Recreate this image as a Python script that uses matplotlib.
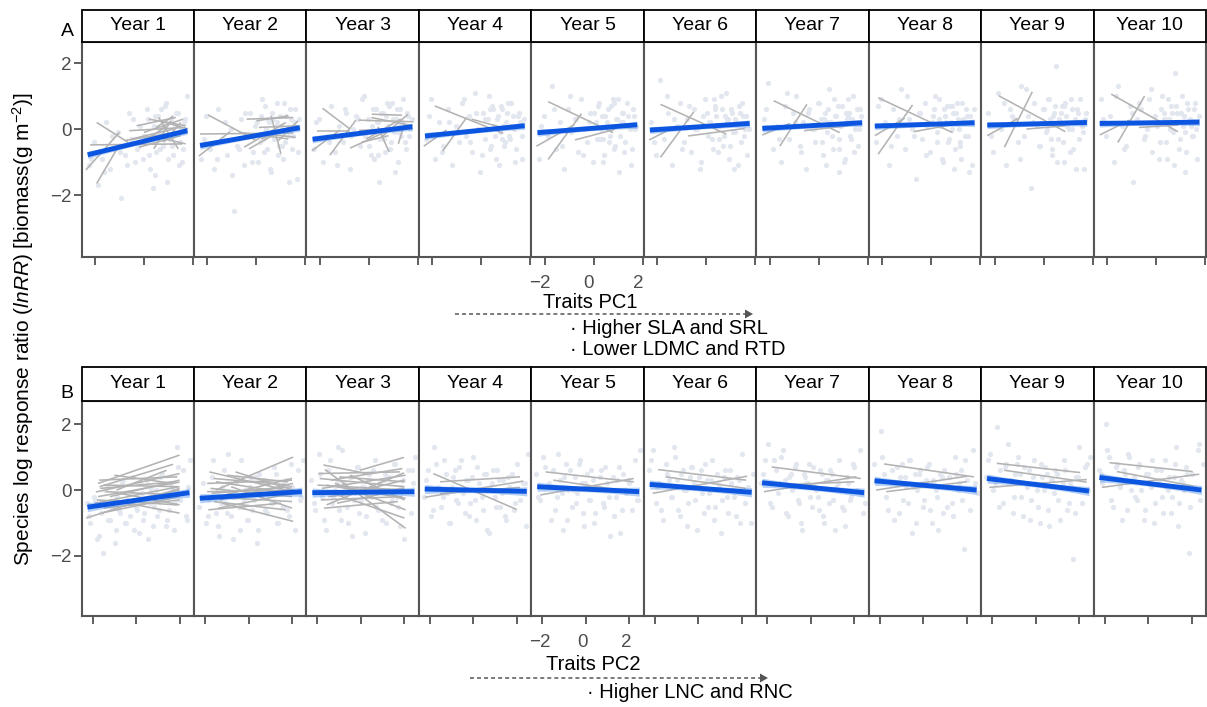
import numpy as np
import matplotlib
matplotlib.use("Agg")
import matplotlib.pyplot as plt
from matplotlib.patches import Rectangle, Polygon
from matplotlib.lines import Line2D
import matplotlib.transforms as mtransforms

plt.rcParams['font.family'] = ['Liberation Sans', 'DejaVu Sans']
plt.rcParams['mathtext.fontset'] = 'custom'
plt.rcParams['mathtext.rm'] = 'Liberation Sans'
plt.rcParams['mathtext.it'] = 'Liberation Sans:italic'
plt.rcParams['mathtext.bf'] = 'Liberation Sans:bold'

# ---------------- data ----------------
years = ["Year %d" % i for i in range(1, 11)]
yticks = [-2, 0, 2]
xticks = [-2, 0, 2]
xtick_labels = ["\u22122", "0", "2"]

# Trait PC1 (panel A) scores of observations
xA = [-2.25, -2.05, -1.88, -1.72, -1.55, -1.38, -1.21, -1.05, -0.92, -0.78, -0.63, -0.51,
      -0.38, -0.27, -0.15, -0.04, 0.08, 0.17, 0.26, 0.34, 0.43, 0.51, 0.60, 0.68,
      0.77, 0.85, 0.93, 1.02, 1.10, 1.19, 1.28, 1.37, 1.46, 1.55, 1.64, 1.74,
      -2.15, -1.62, -1.30, -0.98, -0.71, -0.45, -0.20, 0.02, 0.13, 0.22, 0.31, 0.39,
      0.47, 0.56, 0.64, 0.72, 0.81, 0.89, 0.97, 1.06, 1.14, 1.23, 1.32, 1.41,
      1.50, 1.59, 1.68, 0.36, 0.84, 1.18]
yA = [
    [-1.1, -0.4, -1.7, -0.9, 0.2, -1.2, -0.6, -0.1, -2.1, -0.8, 0.5, -0.3, -1.0, -0.6, 0.1, -0.9, -0.4, 0.3,
     -1.2, -0.2, 0.4, -0.7, -0.1, 0.6, -0.5, 0.2, -1.6, -0.3, 0.3, -0.8, 0.1, 0.5, -0.4, -1.0, 0.2, 1.0,
     -0.9, -1.3, -0.2, -0.7, -1.1, 0.3, -0.5, -0.2, 0.6, -0.8, -0.4, 0.1, -1.4, 0.4, -0.6, 0.0, -0.3, 0.8,
     -0.9, 0.2, -0.5, -0.1, 0.5, -1.1, 0.0, -0.6, 0.3, -1.8, 0.7, -0.2],
    [-0.9, 0.4, -0.6, -1.2, 0.6, -0.3, -0.8, 0.0, -2.5, -0.5, 0.3, -1.1, -0.2, 0.5, -0.7, 0.1, -1.0, 0.4,
     -0.3, 0.7, -0.6, 0.2, -1.3, 0.3, -0.1, 0.8, -0.5, 0.1, -0.9, 0.4, -0.2, 0.6, -0.6, 0.2, -1.5, 0.3,
     -0.3, -0.9, 0.2, -1.4, -0.6, 0.5, -1.0, 0.2, -0.4, 0.9, -0.7, 0.0, 0.3, -1.2, 0.5, -0.3, 0.1, -0.8,
     0.4, -0.5, 0.8, 0.0, -1.6, 0.3, -0.2, 0.6, -0.7, -0.1, 0.2, -0.4],
    [-0.6, 0.3, -1.0, -0.2, 0.7, -0.7, 0.1, -0.4, 0.5, -1.2, 0.0, 0.4, -0.5, 0.9, -0.2, 0.3, -0.8, 0.6,
     -0.1, 0.2, -1.6, 0.5, -0.3, 0.4, 0.1, -0.6, 0.8, -0.1, 0.3, -1.0, 0.6, 0.2, -0.4, 0.5, -0.2, 0.3,
     0.2, -0.4, -1.1, 0.6, -0.2, 0.3, 1.0, -0.5, 0.1, -0.9, 0.6, 0.2, -0.3, 0.5, -0.7, 0.8, 0.0, -0.4,
     0.3, -1.3, 0.6, 0.1, -0.2, 0.9, -0.6, 0.4, 0.0, -0.8, 0.7, -0.1],
    [-0.3, 0.9, -0.9, 0.2, -0.5, 0.6, -1.1, 0.1, -0.4, 0.8, -0.2, 0.4, -0.7, 1.1, 0.0, -1.3, 0.5, -0.3,
     0.3, -0.6, 0.7, 0.1, -0.9, 0.4, -0.1, 0.6, -0.5, 0.2, 0.8, -0.3, 0.4, -1.0, 0.1, 0.5, -0.2, 0.3,
     0.4, -0.7, 0.2, -0.1, 0.9, -0.4, 0.5, -0.8, 0.3, 0.0, 1.0, -0.5, 0.6, -0.2, 0.3, -1.1, 0.7, 0.1,
     -0.4, 0.5, -0.2, 0.8, 0.0, -0.6, 0.4, 0.2, -0.9, 0.6, -0.3, 0.1],
    [-0.9, 0.4, -0.2, 1.3, -0.6, 0.2, -1.2, 0.6, -0.1, 0.3, -0.7, 0.9, 0.0, -0.4, 0.5, -1.0, 0.2, 0.7,
     -0.3, 0.4, -0.8, 0.1, 0.6, -0.2, 0.9, -0.5, 0.3, -1.3, 0.2, 0.5, -0.4, 0.8, 0.0, -0.6, 0.4, 0.1,
     0.1, 0.6, -0.5, 1.0, 0.3, -0.8, 0.2, 0.5, -0.3, 0.8, 0.0, -1.0, 0.4, 0.2, -0.4, 0.7, -0.6, 0.3,
     0.9, -0.2, 0.5, -0.7, 0.1, 0.4, -1.1, 0.6, 0.0, -0.3, 0.8, 0.2],
    [0.2, -0.8, 1.5, -0.3, 0.5, -1.1, 0.1, 0.8, -0.4, 0.3, -0.7, 0.6, 0.0, -1.2, 0.4, 0.9, -0.2, 0.2,
     -0.6, 0.7, 0.1, -0.3, 1.0, -0.5, 0.4, 0.2, -0.9, 0.6, -0.1, 0.3, -1.1, 0.5, 0.8, -0.2, 0.4, 0.0,
     -0.4, 1.0, 0.3, -0.6, 0.7, 0.0, -1.0, 0.5, 0.2, -0.3, 0.9, 0.4, -0.7, 0.1, 0.6, -0.2, 1.1, 0.3,
     -0.5, 0.5, -1.2, 0.2, 0.7, -0.4, 0.4, 0.0, -0.8, 0.6, 0.3, -0.1],
    [0.3, 1.4, -0.6, 0.1, -1.0, 0.7, -0.3, 0.5, 1.0, -0.5, 0.2, -1.2, 0.6, 0.0, -0.4, 0.8, 0.3, -0.8,
     0.5, -0.1, 1.2, 0.2, -0.6, 0.4, 0.7, -0.3, 0.1, -1.0, 0.5, 0.9, -0.2, 0.3, -0.7, 0.6, 0.0, 0.4,
     0.6, -0.3, 1.1, 0.2, -0.7, 0.5, 0.0, 0.8, -0.4, 0.3, -1.1, 0.6, 0.2, -0.2, 0.9, 0.4, -0.6, 0.1,
     0.7, -0.9, 0.3, 0.5, -0.3, 1.0, 0.0, -0.5, 0.6, 0.2, -1.3, 0.4],
    [-0.4, 0.9, 0.2, -1.1, 0.6, -0.2, 1.2, -0.6, 0.3, 0.0, -1.5, 0.5, -0.3, 0.8, 0.1, -0.7, 0.4, 1.0,
     -0.1, 0.3, -0.9, 0.6, 0.2, -0.4, 0.7, 0.0, -1.2, 0.5, 0.3, -0.5, 0.8, -0.2, 0.4, -1.3, 0.2, 0.6,
     0.7, -0.5, 0.3, 1.0, -0.2, 0.5, -0.8, 0.2, 0.6, -0.4, 0.9, 0.1, -1.0, 0.4, 0.7, -0.3, 0.2, 0.5,
     -0.6, 0.8, 0.0, -0.9, 0.3, 0.6, -0.2, 0.4, -1.1, 0.1, 0.7, -0.4],
    [0.5, -0.7, 1.1, 0.0, -1.1, 0.6, 0.3, -0.4, 1.3, -0.2, 0.4, -1.8, 0.8, 0.1, -0.5, 0.6, -0.1, 0.9,
     0.3, -0.8, 0.5, 1.9, -0.3, 0.2, 0.7, -1.0, 0.4, 0.0, 0.9, -0.6, 0.3, 0.6, -0.3, 0.1, -1.2, 0.5,
     -0.2, 0.8, 0.4, -0.9, 1.2, 0.2, -0.5, 0.6, 0.0, 0.9, -0.3, 0.4, 0.7, -1.0, 0.3, 0.5, -0.4, 0.8,
     0.1, -0.7, 0.6, 0.2, -1.2, 0.5, 0.9, -0.1, 0.3, -0.6, 0.7, 0.0],
    [0.9, -0.2, 0.4, -1.0, 1.3, 0.1, -0.5, 0.7, -1.6, 0.3, 0.6, -0.3, 0.0, 0.9, -0.7, 0.4, 0.2, -0.4,
     1.0, 0.5, -0.9, 0.3, 0.7, -0.1, 1.7, 0.2, -0.6, 0.5, 0.1, -1.3, 0.8, 0.3, -0.2, 0.6, 0.0, 0.4,
     0.3, 1.0, -0.6, 0.5, 0.8, -0.2, 1.2, 0.1, -0.9, 0.6, 0.3, -0.4, 0.9, 0.0, 0.5, -1.1, 0.7, 0.2,
     -0.3, 1.0, 0.4, -0.7, 0.6, 0.1, -0.2, 0.8, -0.9, 0.3, 0.5, -0.1],
]

# Trait PC2 (panel B) scores of observations
xB = [-2.28, -2.10, -1.95, -1.80, -1.62, -1.50, -1.35, -1.20, -1.06, -0.93, -0.80, -0.66,
      -0.52, -0.40, -0.27, -0.14, -0.02, 0.12, 0.25, 0.38, 0.50, 0.63, 0.77, 0.90,
      1.04, 1.17, 1.30, 1.44, 1.58, 1.72, 1.86, 2.00, 2.14, 2.28, 2.40, 2.50,
      -2.18, -1.88, -1.70, -1.42, -1.28, -1.12, -0.99, -0.86, -0.72, -0.59, -0.46, -0.33,
      -0.20, -0.08, 0.05, 0.18, 0.31, 0.44, 0.57, 0.70, 0.84, 0.97, 1.10, 1.24,
      1.37, 1.51, 1.65, 1.79, 1.93, 2.35]
yB = [
    [-0.4, -1.0, -0.2, -1.5, -0.7, -1.9, 0.1, -0.9, -0.4, -1.2, -0.6, 0.2, -1.0, -0.3, -0.8, 0.4, -0.5, -1.3,
     -0.1, -0.7, 0.3, -0.4, -1.1, 0.0, -0.6, 0.5, -0.2, -0.9, 0.2, -1.2, 1.3, -0.3, 0.6, -0.8, 0.1, 0.9,
     -0.8, -0.3, -1.4, 0.0, -0.9, -0.5, -1.6, -0.2, -0.7, 0.3, -1.0, -0.4, -0.1, -1.2, -0.6, 0.2, -0.9, -0.3,
     -1.5, 0.0, -0.5, -0.8, 0.4, -0.2, -1.1, -0.6, 0.1, -0.4, 0.7, -0.9],
    [-0.5, 0.2, -1.0, -0.3, 0.9, -0.7, -1.4, 0.1, -0.4, 1.1, -0.8, -0.2, 0.4, -1.2, -0.5, 0.0, -0.9, 0.3,
     -0.3, -1.6, 0.5, -0.1, -0.6, 0.2, -0.4, 0.7, -1.0, 0.0, -0.5, 0.3, -0.8, 0.1, -1.2, 0.6, -0.2, 0.9,
     -0.2, -0.8, 0.4, -1.1, -0.4, 0.6, -0.7, -0.1, -1.5, 0.2, -0.5, 0.9, -0.3, -0.9, 0.1, -0.6, 0.4, -1.2,
     -0.2, 0.3, -0.7, 0.0, -0.4, 0.5, -1.0, -0.1, 0.2, -0.6, 0.8, -0.3],
    [0.3, -0.6, 1.1, -0.2, -1.2, 0.6, -0.4, 0.0, 1.3, -0.9, 0.2, -0.5, 0.4, -1.4, -0.1, 0.7, -0.3, 0.1,
     -0.8, 0.5, -0.2, 0.9, -0.6, 0.0, 0.3, -1.0, 0.4, -0.3, 0.8, -0.5, 0.1, -1.5, 0.6, -0.7, 0.2, 1.0,
     -0.4, 0.5, -0.9, 0.9, -0.2, 0.2, -0.6, 1.2, 0.0, -1.0, 0.4, -0.3, 0.7, -0.7, 0.1, -1.3, 0.3, -0.1,
     0.6, -0.5, 0.2, -0.9, 0.5, 0.0, -0.4, 0.8, -0.2, -1.1, 0.3, 0.6],
    [-0.2, 0.6, -0.8, 1.3, 0.1, -0.5, 0.9, -0.1, -1.0, 0.4, -0.3, 0.7, 0.0, -0.7, 0.3, -0.4, 1.0, -0.9,
     0.2, -0.2, 0.5, -1.2, 0.1, 0.6, -0.5, 0.3, -0.1, -0.8, 0.4, 0.0, -0.6, 0.8, -0.3, 0.2, -1.1, 1.1,
     0.3, -0.6, 0.8, -0.2, 0.5, -1.0, 0.1, 0.6, -0.4, 0.9, -0.1, 0.3, -0.8, 0.4, -0.3, 0.7, 0.0, -0.6,
     0.5, -1.3, 0.2, -0.2, 0.6, -0.5, 0.3, -0.9, 0.1, 0.5, -0.4, 0.2],
    [0.5, -0.3, 1.0, 0.1, -0.9, 0.6, -0.2, 0.3, -1.2, 0.8, 0.0, -0.5, 0.4, -0.1, 0.9, -0.7, 0.2, -0.3,
     0.6, -1.0, 0.1, 0.4, -0.4, 0.7, -0.2, 0.0, -0.8, 0.3, -1.3, 0.5, -0.1, 0.2, -0.6, 0.9, -0.3, 1.2,
     -0.2, 0.7, 0.2, -0.6, 1.1, -0.1, 0.4, -0.9, 0.6, 0.0, -0.4, 0.8, 0.2, -1.1, 0.5, -0.3, 0.3, -0.7,
     0.1, 0.6, -0.5, 0.2, -1.4, 0.4, -0.2, 0.7, -0.6, 0.0, 0.3, -0.3],
    [0.6, 1.2, -0.4, 0.2, -0.9, 0.8, 0.3, -0.2, 1.0, -0.6, 0.5, 0.0, -1.1, 0.4, 0.7, -0.3, 0.1, 0.6,
     -0.7, 0.3, -0.1, 0.9, -0.5, 0.2, -1.3, 0.4, -0.2, 0.6, 0.0, -0.8, 0.3, 1.1, -0.4, 0.1, -1.0, 0.5,
     0.9, 0.1, -0.6, 0.5, -0.2, 1.3, 0.3, -0.8, 0.6, 0.0, -0.4, 0.7, 0.2, -1.2, 0.4, -0.1, 0.8, -0.5,
     0.3, -0.9, 0.5, 0.1, -0.3, 0.6, -0.7, 0.2, -0.2, 0.4, -1.0, 0.0],
    [0.2, 0.9, 1.4, -0.5, 0.6, -0.1, 1.0, 0.3, -0.8, 0.5, 0.1, 0.8, -0.4, -1.2, 0.4, 0.2, -0.2, 0.7,
     0.0, -0.6, 0.5, -1.0, 0.3, 0.6, -0.3, 0.1, 0.9, -0.5, -1.1, 0.2, -0.2, 0.7, 0.0, 1.2, -0.7, -0.4,
     0.5, -0.4, 0.9, 0.2, 1.2, -0.7, 0.4, 0.0, 0.7, -0.3, -1.0, 0.5, 0.2, 0.8, -0.5, 0.1, -0.2, 0.6,
     -0.8, 0.3, -0.4, 0.5, -1.2, 0.2, 0.0, -0.6, 0.4, -0.3, 0.8, -0.1],
    [0.8, 0.3, 1.8, 0.5, -0.6, 0.2, -0.9, 0.7, 0.4, -0.3, 0.1, 0.9, -1.3, 0.5, 0.0, 0.6, -0.5, 0.3,
     0.8, -1.0, 0.2, -0.2, 0.5, -0.7, 0.1, 0.4, -0.4, 1.0, 0.0, 0.6, -1.8, 0.3, -0.6, 1.2, 0.2, -0.1,
     0.3, 1.0, -0.2, 0.6, 0.2, -0.7, 0.8, 0.4, -0.4, 0.9, 0.1, -1.0, 0.5, 0.2, -0.3, 0.7, -0.6, 0.3,
     0.0, -1.2, 0.4, 0.6, -0.5, 0.1, -0.8, 0.5, 0.2, -0.3, 0.9, 0.0],
    [0.4, 1.1, 0.0, 1.9, 0.6, -0.4, 0.8, 0.3, -0.7, 0.5, 1.0, -0.2, 0.7, 0.1, -0.9, 0.4, 0.2, -0.5,
     0.8, 0.0, 0.5, -1.1, 0.3, 0.6, -0.3, 0.1, 0.9, -0.6, 0.2, -2.1, 0.4, 1.3, -0.4, 0.7, 0.0, 1.0,
     0.9, 0.2, -0.5, 0.7, 1.4, 0.3, -0.2, 0.8, 0.5, -0.8, 0.2, 0.6, -0.3, 0.9, 0.0, -1.0, 0.4, 0.7,
     -0.6, 0.3, -0.1, 0.5, -0.9, 0.2, 0.6, -0.4, 0.1, -0.7, 0.4, 0.8],
    [0.6, 0.2, 2.0, 1.0, -0.5, 0.7, 0.3, -0.9, 0.5, 1.1, 0.0, 0.4, -0.3, 0.8, 0.2, -0.6, 0.5, 0.1,
     -1.0, 0.6, 0.3, -0.2, 0.9, 0.0, -0.7, 0.4, 1.3, -0.4, 0.2, 0.7, -1.9, 0.5, 0.1, 1.2, -0.3, 0.8,
     0.5, 1.2, -0.3, 0.8, 0.1, 0.6, -0.6, 1.0, 0.3, -0.2, 0.7, 0.0, -0.9, 0.5, 0.2, 0.9, -0.4, 0.3,
     0.6, -0.7, 0.1, 0.4, -0.2, 0.8, -1.1, 0.3, 0.0, 0.5, -0.5, 1.4],
]

# overall fitted lines (y at left and right end of the trait range)
fitA_x = [-2.30, 1.77]
fitA_y0 = [-0.78, -0.50, -0.31, -0.21, -0.11, -0.03, 0.02, 0.09, 0.12, 0.17]
fitA_y1 = [-0.05, 0.04, 0.07, 0.10, 0.13, 0.17, 0.19, 0.19, 0.20, 0.21]
fitB_x = [-2.24, 2.45]
fitB_y0 = [-0.52, -0.25, -0.08, 0.03, 0.10, 0.17, 0.22, 0.28, 0.35, 0.38]
fitB_y1 = [-0.08, -0.05, -0.05, -0.04, -0.05, -0.07, -0.08, 0.00, -0.03, 0.00]

# species-level fitted lines: (x0, x1, y0, y1)
segA = [
    [(-2.37, -1.00, -1.24, -0.10), (-1.93, -0.65, 0.20, -0.40), (-1.93, -1.10, -1.65, -0.60),
     (-2.20, 1.55, -0.48, -0.45), (-0.60, 1.70, -0.05, 0.05), (-0.30, 1.30, 0.10, 0.35),
     (0.20, 1.70, 0.30, 0.10), (0.00, 1.60, -0.10, 0.30), (-0.50, 1.20, -0.30, 0.00),
     (0.40, 1.10, -0.60, 0.25), (0.60, 1.40, 0.35, -0.60), (-0.20, 1.50, -0.55, -0.20),
     (0.30, 1.70, -0.20, -0.45), (0.80, 1.50, -0.40, 0.20), (-0.80, 0.90, -0.35, -0.15),
     (0.50, 1.20, 0.05, 0.40), (0.10, 0.90, -0.35, 0.10), (-1.20, 0.40, -0.60, -0.30),
     (0.90, 1.80, 0.20, 0.00)],
    [(-2.35, -1.08, -0.82, -0.08), (-1.98, -0.05, 0.43, -0.33), (-2.30, 1.50, -0.15, -0.12),
     (-0.40, 1.50, 0.30, 0.35), (0.00, 1.30, 0.25, 0.40), (-0.50, 1.20, -0.55, 0.20),
     (-0.30, 1.00, -0.60, -0.05), (0.20, 1.50, -0.30, 0.10), (0.60, 1.00, 0.40, -0.75),
     (0.10, 1.70, 0.05, 0.10), (-0.70, 1.30, -0.10, -0.30), (0.90, 1.70, -0.35, 0.25),
     (0.40, 1.60, -0.15, -0.25)],
    [(-1.89, -0.77, 0.63, 0.00), (-2.33, -1.18, -0.66, -0.03), (-1.59, -0.53, -0.79, 0.27),
     (-2.13, -0.77, -0.05, -0.05), (0.12, 1.35, 0.45, 0.42), (-0.42, 1.82, 0.27, 0.22),
     (-0.77, 0.98, -0.58, 0.02), (-0.10, 1.30, -0.30, 0.30), (0.37, 0.82, 0.07, -0.69),
     (-0.40, 1.60, -0.04, 0.03), (0.10, 1.80, 0.35, 0.10), (0.50, 1.60, -0.25, 0.45),
     (-0.30, 0.80, -0.40, -0.20), (1.20, 1.45, -0.45, 0.15)],
    [(-1.90, 0.89, 0.70, -0.13), (-1.58, -0.60, -0.67, 0.35), (-2.35, -1.42, -0.52, -0.03),
     (-0.40, 0.83, 0.30, 0.05)],
    [(-1.86, 0.79, 0.83, -0.11), (-1.86, -0.50, -0.92, 0.47), (-2.34, -0.80, -0.52, 0.13),
     (-0.77, 0.86, -0.33, -0.01)],
    [(-1.87, 0.82, 0.75, -0.15), (-1.87, -0.51, -0.86, 0.52), (-2.33, -1.22, -0.33, 0.09),
     (-0.74, 1.57, -0.21, 0.02)],
    [(-1.84, 0.86, 0.86, -0.11), (-1.59, -0.48, -0.52, 0.75), (-2.30, -1.18, -0.18, 0.17),
     (-0.60, 1.20, -0.05, 0.10)],
    [(-2.16, 0.88, 0.95, -0.11), (-2.16, -0.76, -0.76, 0.73), (-2.30, -1.08, -0.20, 0.33),
     (-0.71, 0.76, -0.08, 0.12)],
    [(-1.83, 0.89, 1.01, -0.08), (-1.60, -0.46, -0.55, 1.13), (-2.30, -1.05, -0.20, 0.32),
     (-0.70, 0.90, 0.00, 0.10)],
    [(-1.83, 0.89, 1.06, -0.08), (-1.56, -0.47, -0.41, 1.00), (-2.30, -1.08, -0.18, 0.27),
     (-0.70, 0.90, 0.05, 0.12)],
]
segB = [
    [(-1.75, 2.00, 0.20, 1.06), (-1.68, 1.70, 0.10, 0.78), (-1.85, 2.00, -0.06, 0.50),
     (-1.75, 2.00, -0.20, 0.24), (-1.90, 1.95, -0.40, 0.10), (-2.30, 2.00, -0.85, 0.05),
     (-1.60, 2.00, -0.70, -0.20), (-1.50, 2.00, 0.15, 0.10), (-1.70, 1.90, 0.30, 0.40),
     (-1.20, 2.00, -0.30, -0.70), (-0.75, 2.00, -0.10, -0.45), (-1.50, 2.00, -0.55, -0.30),
     (-1.40, 2.00, -0.05, -0.15), (-1.00, 1.70, 0.45, 0.20), (-1.80, 1.90, -0.30, -0.45),
     (-1.30, 2.00, -0.45, 0.00), (-0.90, 1.40, 0.00, 0.60), (-1.65, 1.80, 0.05, 0.25),
     (-1.20, 2.00, -0.20, 0.30), (-0.50, 2.00, -0.35, -0.10)],
    [(-1.80, 2.05, 0.55, -0.05), (-1.50, 2.05, 0.00, 1.00), (-1.90, 2.00, 0.20, 0.30),
     (-1.70, 2.00, -0.10, 0.10), (-1.60, 1.90, 0.35, 0.15), (-1.20, 2.05, -0.40, -0.95),
     (-2.00, 2.00, -0.20, -0.35), (-1.40, 2.00, -0.55, -0.10), (-1.00, 1.80, 0.45, 0.25),
     (-1.75, 2.00, 0.05, -0.20), (-1.30, 2.05, -0.30, 0.20), (-1.85, 1.50, -0.60, -0.40),
     (-0.80, 2.00, 0.10, -0.55), (-1.50, 2.00, 0.25, -0.10), (-1.10, 2.00, -0.15, 0.35),
     (-1.60, 1.70, -0.35, -0.60), (-0.60, 2.05, 0.55, 0.00), (-1.90, 2.00, -0.05, 0.00)],
    [(-1.66, 2.05, 0.62, -1.16), (-0.05, 1.98, 0.60, 0.99), (-1.73, 0.26, 0.76, 0.50),
     (-1.58, 1.98, -0.45, 0.52), (-1.90, 2.00, 0.35, 0.10), (-1.80, 2.05, 0.05, 0.45),
     (-1.50, 2.00, -0.20, 0.05), (-1.20, 2.05, 0.20, -0.60), (-1.85, 1.90, -0.30, -0.20),
     (-1.00, 2.00, 0.40, 0.25), (-1.60, 2.05, 0.15, -0.25), (-0.90, 2.00, -0.15, 0.30),
     (-1.95, 1.80, 0.50, 0.55), (-1.30, 2.00, -0.10, -0.85), (-1.70, 1.70, -0.55, -0.35),
     (-0.70, 2.05, 0.05, -0.05), (-1.40, 1.90, 0.30, 0.65), (-2.00, 2.05, 0.15, 0.00),
     (-1.10, 1.80, -0.40, 0.00), (-0.50, 2.00, 0.45, -0.30)],
    [(-1.85, 1.99, 0.50, -0.59), (-1.54, 2.14, 0.25, 0.40), (-2.23, 2.29, -0.22, 0.27),
     (-1.54, 2.14, -0.11, 0.08)],
    [(-1.85, 2.20, 0.55, 0.25), (-2.10, 2.20, -0.15, 0.35), (-1.50, 2.10, 0.30, -0.05)],
    [(-1.85, 2.20, 0.62, 0.30), (-2.10, 2.25, -0.10, 0.42), (-1.50, 2.20, 0.40, 0.05)],
    [(-1.80, 2.30, 0.70, 0.35), (-2.15, 2.10, -0.05, 0.40), (-1.60, 2.00, 0.15, 0.25)],
    [(-1.80, 2.33, 0.79, 0.40), (-2.17, 2.03, 0.00, 0.42), (-1.70, 2.00, -0.05, 0.25)],
    [(-1.79, 2.04, 0.81, 0.53), (-1.45, 2.35, 0.60, 0.24), (-2.13, 2.35, 0.08, 0.32)],
    [(-1.78, 2.05, 0.83, 0.56), (-1.44, 2.08, 0.56, 0.12), (-2.13, 2.35, 0.08, 0.48)],
]

# ---------------- layout ----------------
W, H = 1207, 707
fig = plt.figure(figsize=(W / 100, H / 100), dpi=100)


def fx(px):
    return px / W


def fy(py):
    return 1 - py / H


LEFT0 = 81.5
PW = 112.45
PT_COL = '#e2e6ee'
SEG_COL = '#b3b3b3'
FIT_COL = '#0b55e0'
BAND_COL = '#5f97ea'
SPINE_COL = '#555555'
TXT_COL = '#4d4d4d'


def draw_row(top, bottom, strip_h, xlim, ylim, xs, ys, segs, fit_x, fy0, fy1,
             band0, band1, lab_dx, letter, letter_y):
    axes = []
    for i in range(10):
        x0 = LEFT0 + i * PW
        ax = fig.add_axes([fx(x0), fy(bottom), PW / W, (bottom - top) / H])
        ax.set_xlim(*xlim)
        ax.set_ylim(*ylim)
        ax.scatter(xs, ys[i], s=14, color=PT_COL, linewidths=0, zorder=1)
        for (a, b, c, d) in segs[i]:
            ax.plot([a, b], [c, d], color=SEG_COL, lw=1.15, zorder=2,
                    solid_capstyle='butt')
        xx = np.linspace(fit_x[0], fit_x[1], 60)
        yy = fy0[i] + (fy1[i] - fy0[i]) * (xx - fit_x[0]) / (fit_x[1] - fit_x[0])
        t = (xx - np.mean(fit_x)) / ((fit_x[1] - fit_x[0]) / 2)
        hw = band0 + band1 * t ** 2
        ax.fill_between(xx, yy - hw, yy + hw, color=BAND_COL, alpha=0.45,
                        linewidth=0, zorder=3)
        ax.plot(xx, yy, color=FIT_COL, lw=3.5, zorder=4, solid_capstyle='butt')

        ax.set_xticks(xticks)
        ax.tick_params(axis='x', direction='out', length=5.8, width=1.1,
                       color='#333333', labelsize=13.5, labelcolor=TXT_COL, pad=7.5)
        if i == 4:
            ax.set_xticklabels(xtick_labels)
            off = mtransforms.ScaledTranslation(lab_dx / 100, 0, fig.dpi_scale_trans)
            for lab in ax.get_xticklabels():
                lab.set_transform(lab.get_transform() + off)
        else:
            ax.set_xticklabels([])
        if i == 0:
            ax.set_yticks(yticks)
            ax.set_yticklabels(["\u22122", "0", "2"])
            ax.tick_params(axis='y', direction='out', length=5.8, width=1.1,
                           color='#333333', labelsize=13.5, labelcolor=TXT_COL, pad=1.5)
        else:
            ax.set_yticks([])
        for sp in ax.spines.values():
            sp.set_color(SPINE_COL)
            sp.set_linewidth(1.5)
            sp.set_zorder(6)
        sh = strip_h / (bottom - top)
        ax.add_patch(Rectangle((0, 1), 1, sh, transform=ax.transAxes, clip_on=False,
                               facecolor='white', edgecolor='black', lw=1.3, zorder=7))
        ax.text(0.5, 1 + sh / 2, years[i], transform=ax.transAxes, ha='center',
                va='center', fontsize=14, color='black', zorder=8)
        axes.append(ax)
    fig.text(fx(67), fy(letter_y), letter, ha='center', va='center', fontsize=14)
    return axes


draw_row(42, 257, 32, (-2.55, 2.04), (-3.88, 2.64), xA, yA, segA, fitA_x,
         fitA_y0, fitA_y1, 0.07, 0.04, -5, "A", 31)
draw_row(401, 616, 34, (-2.51, 2.66), (-3.82, 2.70), xB, yB, segB, fitB_x,
         fitB_y0, fitB_y1, 0.08, 0.06, -3, "B", 393)


def arrow(x0, x1, y):
    fig.add_artist(Line2D([fx(x0), fx(x1 - 7)], [fy(y), fy(y)], transform=fig.transFigure,
                          color='#555555', lw=1.1, dashes=(2.6, 2.0)))
    fig.add_artist(Polygon([[fx(x1), fy(y)], [fx(x1 - 8), fy(y - 4.5)], [fx(x1 - 8), fy(y + 4.5)]],
                           closed=True, transform=fig.transFigure, color='#555555', lw=0))


# annotations, panel A
fig.text(fx(590.5), fy(302), "Traits PC1", ha='center', va='center', fontsize=14.5)
arrow(455, 753, 314)
fig.text(fx(570), fy(328), "\u00b7 Higher SLA and SRL", ha='left', va='center', fontsize=14.5)
fig.text(fx(570), fy(349), "\u00b7 Lower LDMC and RTD", ha='left', va='center', fontsize=14.5)

# annotations, panel B
fig.text(fx(593), fy(664), "Traits PC2", ha='center', va='center', fontsize=14.5)
arrow(470, 768, 678)
fig.text(fx(587), fy(693), "\u00b7 Higher LNC and RNC", ha='left', va='center', fontsize=14.5)

# shared y label
fig.text(fx(23), fy(329),
         r"Species log response ratio ($\mathit{lnRR}$) [biomass(g m$^{-2}$)]",
         rotation=90, ha='center', va='center', fontsize=15)

fig.savefig("out.png", dpi=100)
